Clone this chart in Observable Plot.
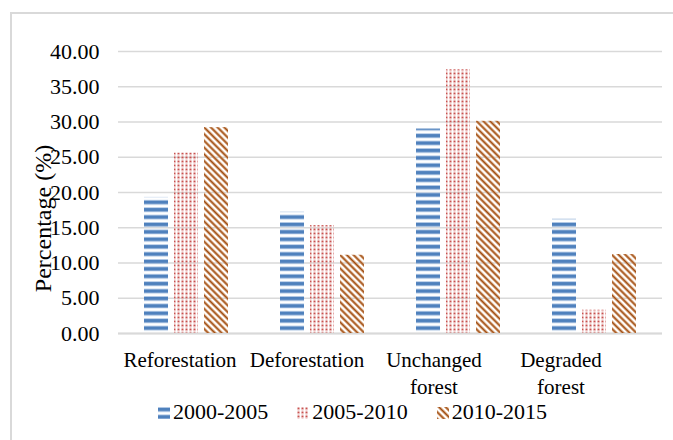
<!DOCTYPE html>
<html>
<head>
<meta charset="utf-8">
<script src="https://cdn.jsdelivr.net/npm/d3@7"></script>
<script src="https://cdn.jsdelivr.net/npm/@observablehq/plot@0.6"></script>
<style>
  html, body { margin: 0; padding: 0; background: #fff; }
  #wrap { position: relative; width: 673px; height: 440px; overflow: hidden; font-family: "Liberation Serif", serif; }
  #wrap svg text { font-family: "Liberation Serif", serif; }
  #frame { position: absolute; left: 10px; top: 12px; width: 700px; height: 460px; border: 2px solid #d9d9d9; box-sizing: border-box; }
  #wrap > svg { position: absolute; left: 0; top: 0; }
  #legend { position: absolute; left: 158px; top: 401px; display: flex; align-items: flex-start; font-size: 22px; line-height: 22px; color: #000; }
  #legend .item { display: flex; align-items: flex-start; margin-right: 29px; }
  #legend svg { margin-top: 6px; margin-right: 3px; }
</style>
</head>
<body>
<div id="wrap"><div id="frame"></div></div>
<script>
const categories = ["Reforestation", "Deforestation", "Unchanged forest", "Degraded forest"];
const categoryLabels = ["Reforestation", "Deforestation", "Unchanged\nforest", "Degraded\nforest"];
const series = ["2000-2005", "2005-2010", "2010-2015"];
const v2000_2005 = [19.3, 17.2, 29.0, 16.2];
const v2005_2010 = [25.6, 15.3, 37.4, 3.3];
const v2010_2015 = [29.2, 11.1, 30.1, 11.2];
const yTicks = [0, 5, 10, 15, 20, 25, 30, 35, 40];
const yTitle = "Percentage (%)";

const seriesValues = [v2000_2005, v2005_2010, v2010_2015];
const data = [];
categories.forEach((c, i) => series.forEach((s, j) => data.push({category: c, series: s, value: seriesValues[j][i]})));
const patternIds = ["pBlue", "pRed", "pBrown"];

const defs = `
<defs>
  <pattern id="pBlue" patternUnits="userSpaceOnUse" width="8" height="7.4">
    <rect x="0" y="0" width="8" height="5" fill="#c6d7ee"/>
    <rect x="0" y="0.8" width="8" height="3.4" fill="#4f81bd"/>
  </pattern>
  <pattern id="pRed" patternUnits="userSpaceOnUse" width="4" height="4">
    <rect x="0.5" y="0.5" width="2" height="2" fill="#c8524f"/>
    <rect x="0.5" y="2.5" width="2" height="1.2" fill="#eec0bf"/>
  </pattern>
  <pattern id="pBrown" patternUnits="userSpaceOnUse" width="4.75" height="10" patternTransform="rotate(-45)">
    <rect x="0" y="0" width="2.7" height="10" fill="#e4b894"/>
    <rect x="0.6" y="0" width="1.5" height="10" fill="#9e4c12"/>
  </pattern>
</defs>`;

const wrap = document.getElementById("wrap");

const main = Plot.plot({
  width: 673, height: 440,
  marginLeft: 117, marginRight: 10, marginTop: 51, marginBottom: 107,
  style: {background: "transparent", color: "#000"},
  fx: {domain: categories, padding: 0, axis: null},
  x: {domain: series, paddingInner: 0.197, paddingOuter: 0.836, axis: null},
  y: {domain: [0, 40]},
  color: {domain: series, range: patternIds.map(id => `url(#${id})`)},
  marks: [
    Plot.gridY(yTicks, {stroke: "#d9d9d9", strokeOpacity: 1, strokeWidth: 1.3}),
    Plot.ruleY([0], {stroke: "#d9d9d9", strokeWidth: 1.8}),
    Plot.barY(data, {fx: "category", x: "series", y: "value", fill: "series"}),
    Plot.axisY(yTicks, {tickSize: 0, tickPadding: 19, tickFormat: d => d.toFixed(2), fontSize: 22, label: null, fill: "#000"})
  ]
});
main.insertAdjacentHTML("afterbegin", defs);
wrap.appendChild(main);

const labelMap = new Map(categories.map((c, i) => [c, categoryLabels[i]]));
const overlay = Plot.plot({
  width: 673, height: 440,
  marginLeft: 115.7, marginRight: 47.9, marginTop: 51, marginBottom: 107,
  style: {background: "transparent", color: "#000"},
  x: {type: "band", domain: categories, padding: 0},
  marks: [
    Plot.axisX({anchor: "bottom", tickSize: 0, tickPadding: 14.6, fontSize: 21, lineHeight: 1.27, tickFormat: c => labelMap.get(c), label: null, fill: "#000"}),
    Plot.text([yTitle], {text: d => d, frameAnchor: "left", textAnchor: "middle", rotate: -90, dx: -73, dy: 26, fontSize: 24, fill: "#000"})
  ]
});
overlay.style.pointerEvents = "none";
wrap.appendChild(overlay);

const legend = document.createElement("div");
legend.id = "legend";
series.forEach((s, j) => {
  const item = document.createElement("div");
  item.className = "item";
  item.innerHTML = `<svg width="12" height="12"><rect width="12" height="12" fill="url(#${patternIds[j]})"/></svg><span>${s}</span>`;
  legend.appendChild(item);
});
wrap.appendChild(legend);
</script>
</body>
</html>
